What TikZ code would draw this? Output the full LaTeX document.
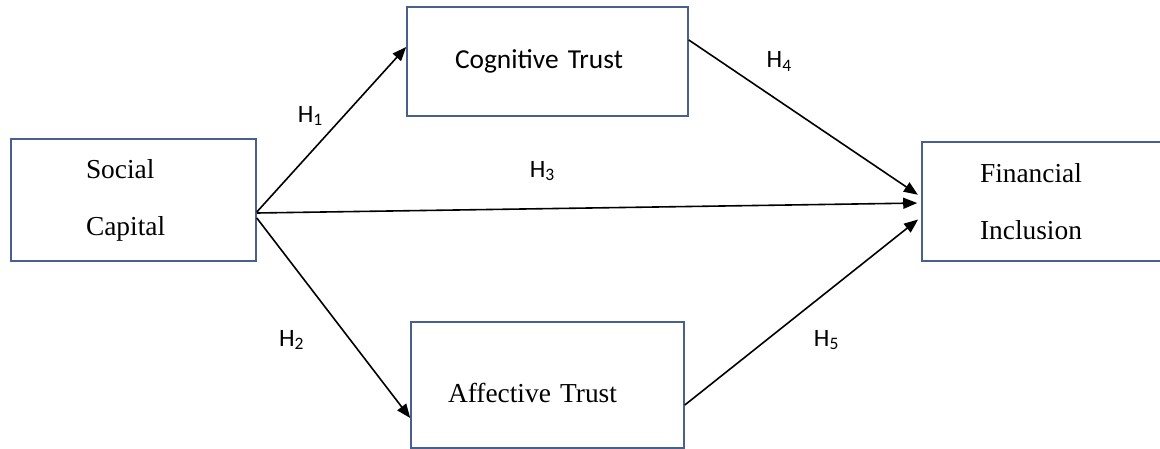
\documentclass[tikz,border=0pt]{standalone}
\usepackage{fontspec}
\setmainfont{Liberation Serif}
\newfontfamily\calibri{Carlito}
\usetikzlibrary{arrows.meta,positioning,calc}

\definecolor{boxline}{RGB}{74,96,140}

\begin{document}
\begin{tikzpicture}[x=0.5pt, y=-0.5pt, font=\fontsize{13.7}{16}\selectfont]
    \tikzset{
        box/.style={draw=boxline, line width=0.8pt, inner sep=0pt},
        link/.style={-{Triangle[length=7pt, width=5.5pt]}, line width=0.8pt},
        hyp/.style={font=\calibri\fontsize{12.5}{14}\selectfont, inner sep=0pt}
    }
    \clip (0,0) rectangle (1160,449);

    % constructs
    \node[box, minimum width=122.5pt, minimum height=61pt, text width=47.5pt, inner xsep=37.5pt, align=left] (sc) at (133.5,200) {Social\\[12.5pt]Capital};
    \node[box, minimum width=140.5pt, minimum height=54.5pt, text width=92.5pt, inner xsep=24pt, align=left, font=\calibri\fontsize{13.7}{16}\selectfont] (ct) at (547.5,61.5) {Cognitive Trust};
    \node[box, minimum width=136.5pt, minimum height=63pt, text width=99.5pt, inner xsep=18.5pt, align=left, text height=18pt] (at) at (547.5,385) {Affective Trust};
    \node[box, minimum width=121.5pt, minimum height=59.5pt, text width=63.5pt, inner xsep=29pt, align=left] (fi) at (1043.5,201.5) {Financial\\[12.5pt]Inclusion};

    % hypotheses
    \draw[link] ([yshift=-6pt]sc.east) -- ([yshift=7.25pt]ct.west) node[hyp, pos=0.36, above=13pt] {H\textsubscript{1}};
    \draw[link] ([yshift=-9pt]sc.east) -- ([yshift=-16.5pt]at.west) node[hyp, pos=0.61, left=22.5pt] {H\textsubscript{2}};
    \draw[link, shorten >=2pt] ([yshift=-6.5pt]sc.east) -- ([yshift=-0.75pt]fi.west) node[hyp, pos=0.43, above=13.5pt] {H\textsubscript{3}};
    \draw[link, shorten >=2pt] ([yshift=10.75pt]ct.east) -- ([yshift=2.25pt]fi.west) node[hyp, pos=0.39, above=14.5pt] {H\textsubscript{4}};
    \draw[link, shorten >=2pt] ([yshift=-10pt]at.east) -- ([yshift=-7.75pt]fi.west) node[hyp, pos=0.6, below=18.5pt] {H\textsubscript{5}};
\end{tikzpicture}
\end{document}
